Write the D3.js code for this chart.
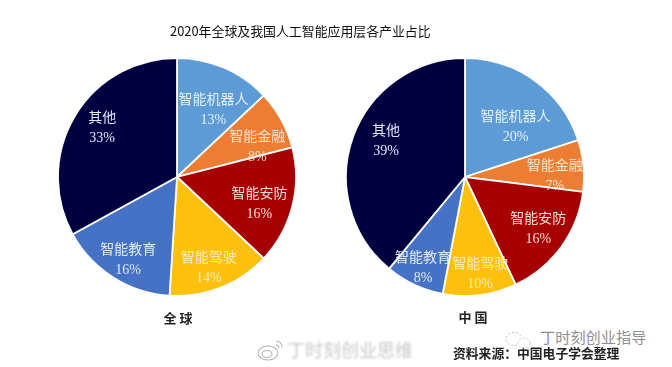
<!DOCTYPE html>
<html>
<head>
<meta charset="utf-8">
<script src="https://cdn.jsdelivr.net/npm/d3@7"></script>
<style>
  html, body { margin: 0; padding: 0; background: #fff; }
  svg { display: block; }
  text { font-family: "Noto Sans CJK SC", sans-serif; }
</style>
</head>
<body>
<div id="my_dataviz"></div>
<script>
// data
const categories = ["智能机器人", "智能金融", "智能安防", "智能驾驶", "智能教育", "其他"];
const globalValues = [13, 8, 16, 14, 16, 33];
const chinaValues = [20, 7, 16, 10, 8, 39];
const titleText = "2020年全球及我国人工智能应用层各产业占比";
const sourceText = "资料来源：中国电子学会整理";

// colours per category
const sliceColors = ["#5b9bd5", "#ed7d31", "#a60000", "#fcc00a", "#4472c4", "#02023f"];
const labelColors = ["#e4f0fa", "#fde3cd", "#fcdcdc", "#fbeeb8", "#e0e9f8", "#e4e4f8"];

// label nudges from the slice centroid: [dx, dy]
const globalNudge = [[1, 13], [2, 11], [-4, 3], [-1, 6], [-1, 6], [2, -6]];
const chinaNudge = [[-2, 20], [1, 5], [1, -2], [4, 6], [-4, 8], [5, -8]];

let width = 672, height = 367, radius = 119;

let svg = d3.select("#my_dataviz")
  .append("svg")
    .attr("width", width)
    .attr("height", height);

let defs = svg.append("defs");
defs.append("filter").attr("id", "soft")
  .append("feGaussianBlur").attr("stdDeviation", 0.45);
defs.append("filter").attr("id", "smudge")
  .append("feGaussianBlur").attr("stdDeviation", 1.1);

let color = d3.scaleOrdinal().domain(categories).range(sliceColors);
let labelColor = d3.scaleOrdinal().domain(categories).range(labelColors);

let pie = d3.pie().sort(null).value(function(d) { return d.value; });
let arc = d3.arc().innerRadius(0).outerRadius(radius);
let centroidArc = d3.arc().innerRadius(radius * 0.55).outerRadius(radius * 0.95);

// one pie with its slice labels
function drawPie(values, nudge, cx, cy) {
  let rows = categories.map(function(name, i) {
    return {name: name, value: values[i], nudge: nudge[i]};
  });
  let g = svg.append("g")
    .attr("transform", "translate(" + cx + "," + cy + ")")
    .attr("filter", "url(#soft)");

  g.selectAll("path")
    .data(pie(rows))
    .enter()
    .append("path")
      .attr("d", arc)
      .attr("fill", function(d) { return color(d.data.name); })
      .attr("stroke", "#fdfdfd")
      .attr("stroke-width", 1.8);

  let labels = g.selectAll(".label")
    .data(pie(rows))
    .enter()
    .append("g")
      .attr("class", "label")
      .attr("transform", function(d) {
        let c = centroidArc.centroid(d);
        return "translate(" + (c[0] + d.data.nudge[0]) + "," + (c[1] + d.data.nudge[1]) + ")";
      })
      .style("fill", function(d) { return labelColor(d.data.name); })
      .attr("text-anchor", "middle");

  labels.append("text")
    .attr("y", -4)
    .style("font-size", "14px")
    .text(function(d) { return d.data.name; });

  labels.append("text")
    .attr("y", 16)
    .style("font-family", "'Liberation Serif', serif")
    .style("font-size", "14px")
    .text(function(d) { return d.data.value + "%"; });
}

drawPie(globalValues, globalNudge, 177, 177);
drawPie(chinaValues, chinaNudge, 465, 177);

// title and captions
let texts = svg.append("g").attr("filter", "url(#soft)");
texts.append("text")
  .attr("x", 170).attr("y", 36)
  .style("font-size", "12.9px")
  .style("fill", "#111")
  .text(titleText);
texts.append("text")
  .attr("x", 178).attr("y", 323)
  .attr("text-anchor", "middle")
  .style("font-size", "13px").style("font-weight", 700)
  .style("fill", "#222")
  .text("全 球");
texts.append("text")
  .attr("x", 473).attr("y", 322)
  .attr("text-anchor", "middle")
  .style("font-size", "13px").style("font-weight", 700)
  .style("fill", "#222")
  .text("中 国");
texts.append("text")
  .attr("x", 453).attr("y", 358)
  .style("font-size", "12.8px").style("font-weight", 700)
  .style("fill", "#222")
  .text(sourceText);

// watermarks
let marks = svg.append("g").attr("filter", "url(#smudge)");
marks.append("text")
  .attr("x", 287).attr("y", 357)
  .style("font-size", "18px")
  .style("fill", "#c8c8c8")
  .text("丁时刻创业思维");

let weibo = svg.append("g")
  .attr("fill", "none").attr("stroke", "#b5b5b5").attr("stroke-width", 1.1);
weibo.append("ellipse")
  .attr("cx", 268).attr("cy", 353).attr("rx", 10).attr("ry", 7);
weibo.append("ellipse")
  .attr("cx", 267).attr("cy", 354).attr("rx", 5).attr("ry", 3.5);
weibo.append("path").attr("d", "M276 341 A6 6 0 0 1 282 348");
weibo.append("path").attr("d", "M276 345 A3 3 0 0 1 279 348");

svg.append("text")
  .attr("x", 540).attr("y", 343)
  .style("font-size", "15.2px")
  .style("fill", "#8f8f8f")
  .text("丁时刻创业指导");
svg.append("ellipse")
  .attr("cx", 514).attr("cy", 339).attr("rx", 8).attr("ry", 6.5)
  .attr("fill", "none").attr("stroke", "#bbb")
  .attr("stroke-dasharray", "2 2");
svg.append("ellipse")
  .attr("cx", 524).attr("cy", 343).attr("rx", 6).attr("ry", 5)
  .attr("fill", "#fff").attr("stroke", "#ccc")
  .attr("stroke-dasharray", "2 2");
</script>
</body>
</html>
